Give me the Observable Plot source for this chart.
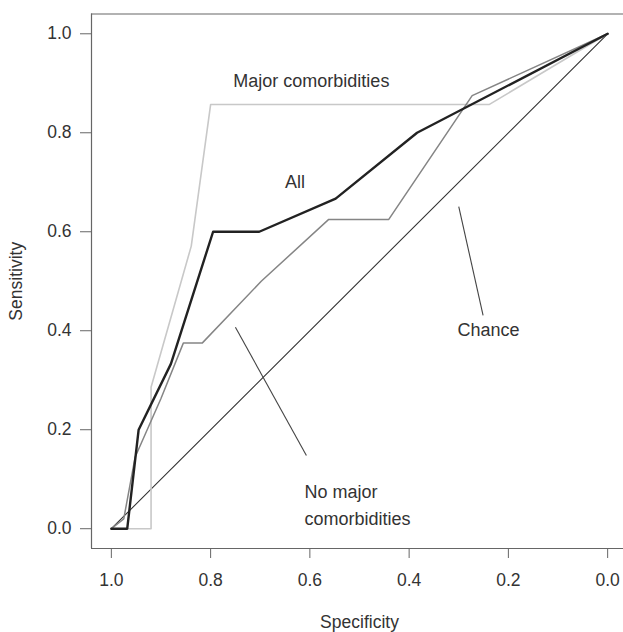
<!DOCTYPE html>
<html>
<head>
<meta charset="utf-8">
<script src="https://cdn.jsdelivr.net/npm/d3@7"></script>
<script src="https://cdn.jsdelivr.net/npm/@observablehq/plot@0.6"></script>
<style>
  body { margin: 0; background: #fff; }
  #chart svg { overflow: visible; }
</style>
</head>
<body>
<div id="chart"></div>
<script>
// Specificity / Sensitivity pairs for each ROC curve
const allSpec  = [1.0, 0.968, 0.945, 0.88, 0.795, 0.702, 0.548, 0.384, 0.0];
const allSens  = [0.0, 0.0,   0.2,   0.333, 0.6,  0.6,   0.667, 0.8,   1.0];

const majorSpec = [1.0, 0.92, 0.92, 0.839, 0.80, 0.239, 0.0];
const majorSens = [0.0, 0.0,  0.286, 0.571, 0.857, 0.857, 1.0];

const noMajorSpec = [1.0, 0.975, 0.952, 0.90, 0.855, 0.817, 0.698, 0.562, 0.441, 0.273, 0.0];
const noMajorSens = [0.0, 0.02,  0.145, 0.263, 0.375, 0.375, 0.5,  0.625, 0.625, 0.875, 1.0];

const chanceSpec = [1.0, 0.0];
const chanceSens = [0.0, 1.0];

const tickValues = [1.0, 0.8, 0.6, 0.4, 0.2, 0.0];
const tickLabels = ["1.0", "0.8", "0.6", "0.4", "0.2", "0.0"];

const labelTexts  = ["Major comorbidities", "All", "Chance", "No major\ncomorbidities"];
const labelSpec   = [0.597, 0.630, 0.240, 0.611];
const labelSens   = [0.905, 0.701, 0.401, 0.052];
const labelAnchor = ["middle", "middle", "middle", "start"];

const pointerSpec1 = [0.300, 0.750];
const pointerSens1 = [0.651, 0.407];
const pointerSpec2 = [0.251, 0.607];
const pointerSens2 = [0.431, 0.148];

const toRows = (xs, ys) => xs.map((x, i) => ({x, y: ys[i]}));
const allRows = toRows(allSpec, allSens);
const majorRows = toRows(majorSpec, majorSens);
const noMajorRows = toRows(noMajorSpec, noMajorSens);
const chanceRows = toRows(chanceSpec, chanceSens);
const labelRows = labelTexts.map((t, i) => ({t, x: labelSpec[i], y: labelSens[i], a: labelAnchor[i]}));
const pointerRows = pointerSpec1.map((x1, i) => ({x1, y1: pointerSens1[i], x2: pointerSpec2[i], y2: pointerSens2[i]}));

const xLo = 1.04, xHi = -0.04, yLo = -0.04, yHi = 1.04;
const fontFamily = "Liberation Sans, Arial, Helvetica, sans-serif";
const textColor = "#333";

const chart = Plot.plot({
  width: 623,
  height: 632,
  marginLeft: 91,
  marginRight: -4,
  marginTop: 13.5,
  marginBottom: 84,
  style: {fontFamily, fontSize: "17.5px", color: textColor, background: "white"},
  x: {domain: [xLo, xHi]},
  y: {domain: [yLo, yHi]},
  marks: [
    // frame box
    Plot.ruleY([yLo, yHi], {x1: xLo, x2: xHi, stroke: "#666", strokeWidth: 1.2}),
    Plot.ruleX([xLo, xHi], {y1: yLo, y2: yHi, stroke: "#666", strokeWidth: 1.2}),
    Plot.axisX({
      ticks: tickValues, tickFormat: (d) => tickLabels[tickValues.indexOf(d)],
      tickSize: 10, tickPadding: 15, stroke: "#666", fill: textColor,
      label: "Specificity", labelAnchor: "center", labelOffset: 79, labelArrow: "none"
    }),
    Plot.axisY({
      ticks: tickValues, tickFormat: (d) => tickLabels[tickValues.indexOf(d)],
      tickSize: 11, tickPadding: 9, stroke: "#666", fill: textColor,
      label: "Sensitivity", labelAnchor: "center", labelOffset: 82, labelArrow: "none"
    }),
    Plot.line(chanceRows, {x: "x", y: "y", stroke: "#333", strokeWidth: 1.1}),
    Plot.line(majorRows, {x: "x", y: "y", stroke: "#c8c8c8", strokeWidth: 1.6}),
    Plot.line(noMajorRows, {x: "x", y: "y", stroke: "#858585", strokeWidth: 1.5}),
    Plot.line(allRows, {x: "x", y: "y", stroke: "#222", strokeWidth: 2.4}),
    Plot.link(pointerRows, {x1: "x1", y1: "y1", x2: "x2", y2: "y2", stroke: "#444", strokeWidth: 1.1}),
    Plot.text(labelRows.filter(d => d.a === "middle"), {x: "x", y: "y", text: "t", fill: textColor, fontSize: 18, textAnchor: "middle"}),
    Plot.text(labelRows.filter(d => d.a === "start"), {x: "x", y: "y", text: "t", fill: textColor, fontSize: 18, textAnchor: "start", lineHeight: 1.5})
  ]
});
document.getElementById("chart").appendChild(chart);
</script>
</body>
</html>
